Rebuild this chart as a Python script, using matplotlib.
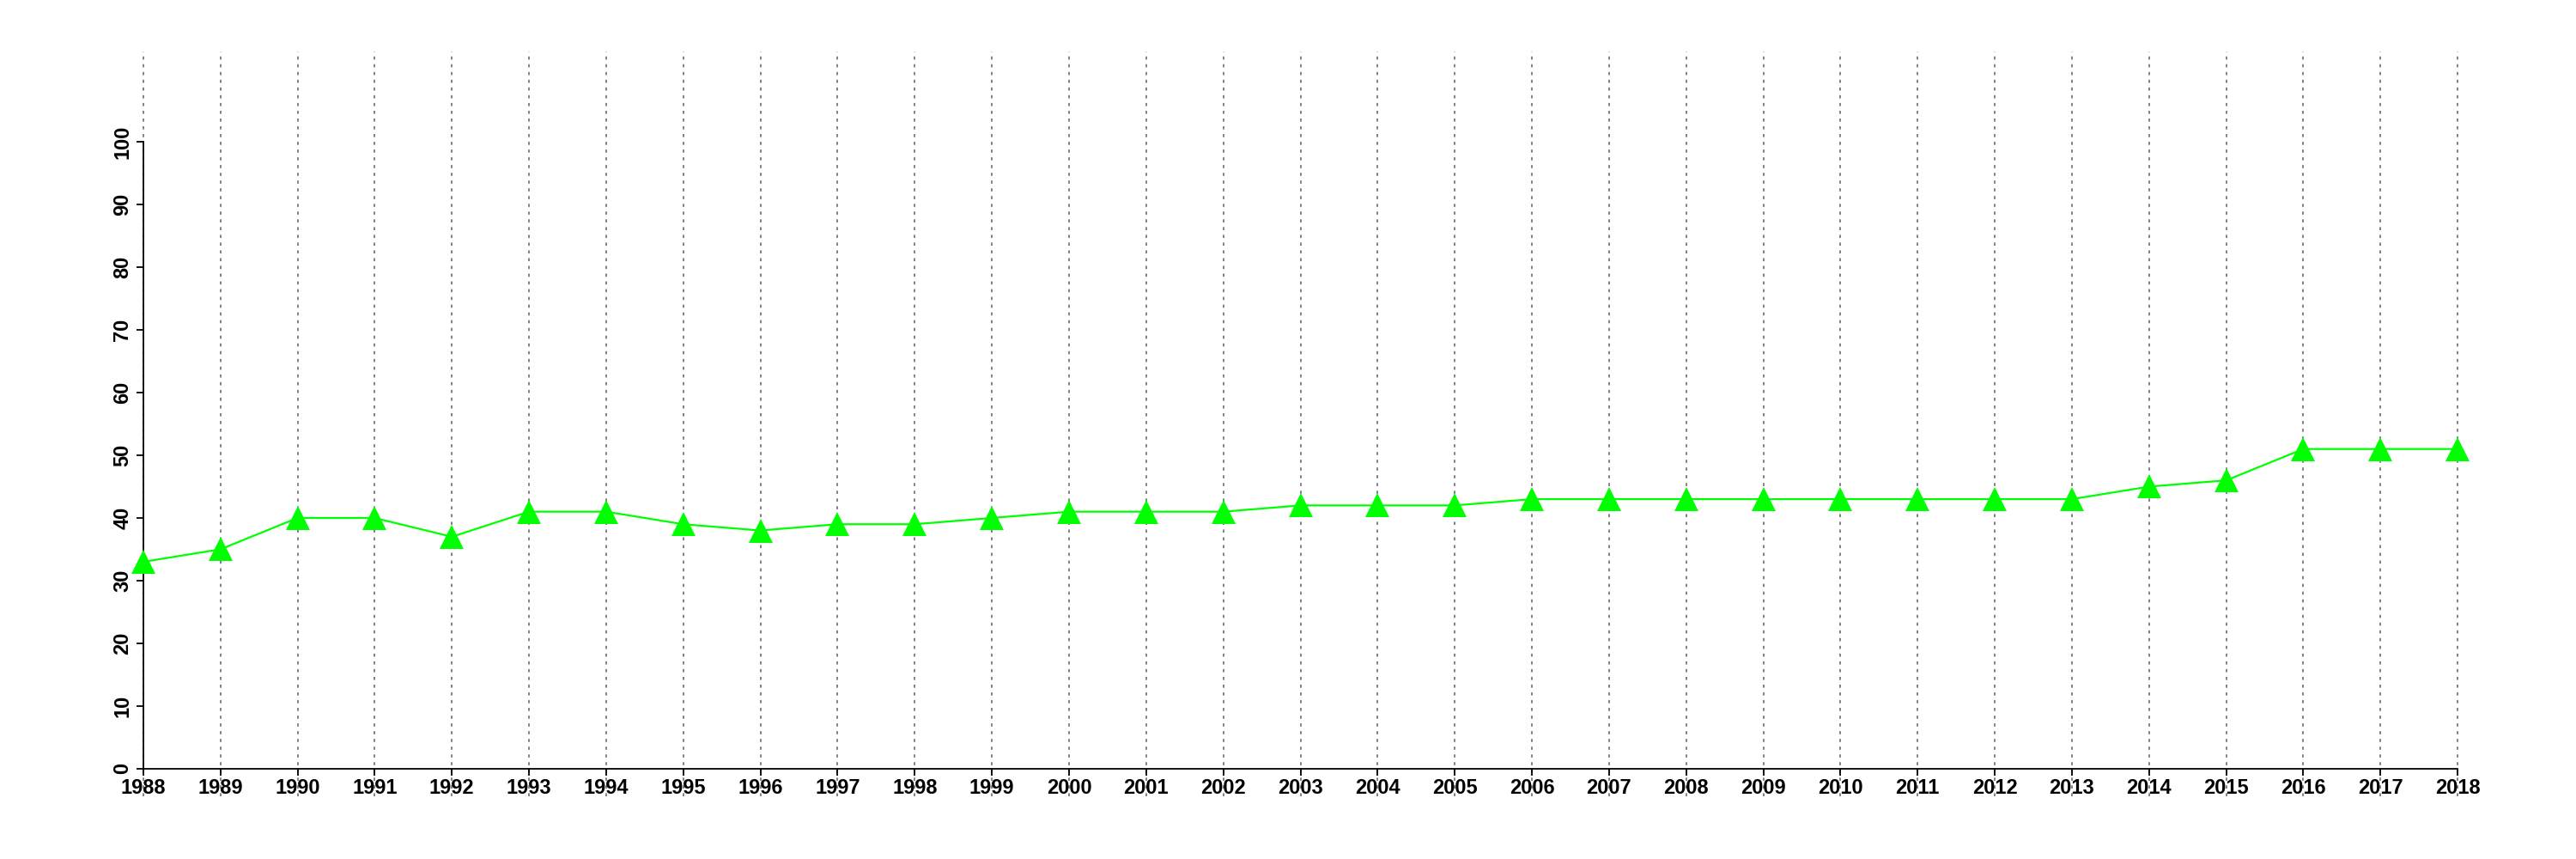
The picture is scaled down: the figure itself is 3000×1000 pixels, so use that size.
import matplotlib
matplotlib.use("Agg")
import matplotlib.pyplot as plt

years = list(range(1988, 2019))
values = [33, 35, 40, 40, 37, 41, 41, 39, 38, 39, 39, 40, 41, 41, 41,
          42, 42, 42, 43, 43, 43, 43, 43, 43, 43, 43, 45, 46, 51, 51, 51]
yticks = list(range(0, 101, 10))

plt.rcParams['font.family'] = ['Liberation Sans', 'DejaVu Sans']
plt.rcParams['font.weight'] = 'bold'

fig = plt.figure(figsize=(30, 10), dpi=100)
ax = fig.add_axes([59 / 3000, 73 / 1000, (2970 - 59) / 3000, (927 - 60) / 1000])

# vertical dotted guides at each year
for yr in years:
    ax.axvline(yr, color='#777777', linestyle=(0, (2, 3)), linewidth=1.3, zorder=1)

ax.plot(years, values, color='#00ff00', linewidth=1.6, marker='^',
        markersize=20.5, markeredgewidth=0, zorder=3)

ax.set_xlim(1986.8, 2019.2)
ax.set_ylim(-4.4, 114.4)

for s in ['top', 'right']:
    ax.spines[s].set_visible(False)
ax.spines['left'].set_position(('data', 1988))
ax.spines['bottom'].set_position(('data', 0))
ax.spines['left'].set_bounds(0, 100)
ax.spines['bottom'].set_bounds(1988, 2018)
ax.spines['left'].set_linewidth(1.3)
ax.spines['bottom'].set_linewidth(1.3)

ax.set_xticks(years)
ax.set_xticklabels([str(y) for y in years])
ax.set_yticks(yticks)
ax.set_yticklabels([str(v) for v in yticks], rotation=90, va='center')
ax.tick_params(axis='both', direction='out', length=6, width=1.3,
               labelsize=17, pad=3)
ax.tick_params(axis='x', pad=2)

fig.savefig('out.png', dpi=100, facecolor='white')
